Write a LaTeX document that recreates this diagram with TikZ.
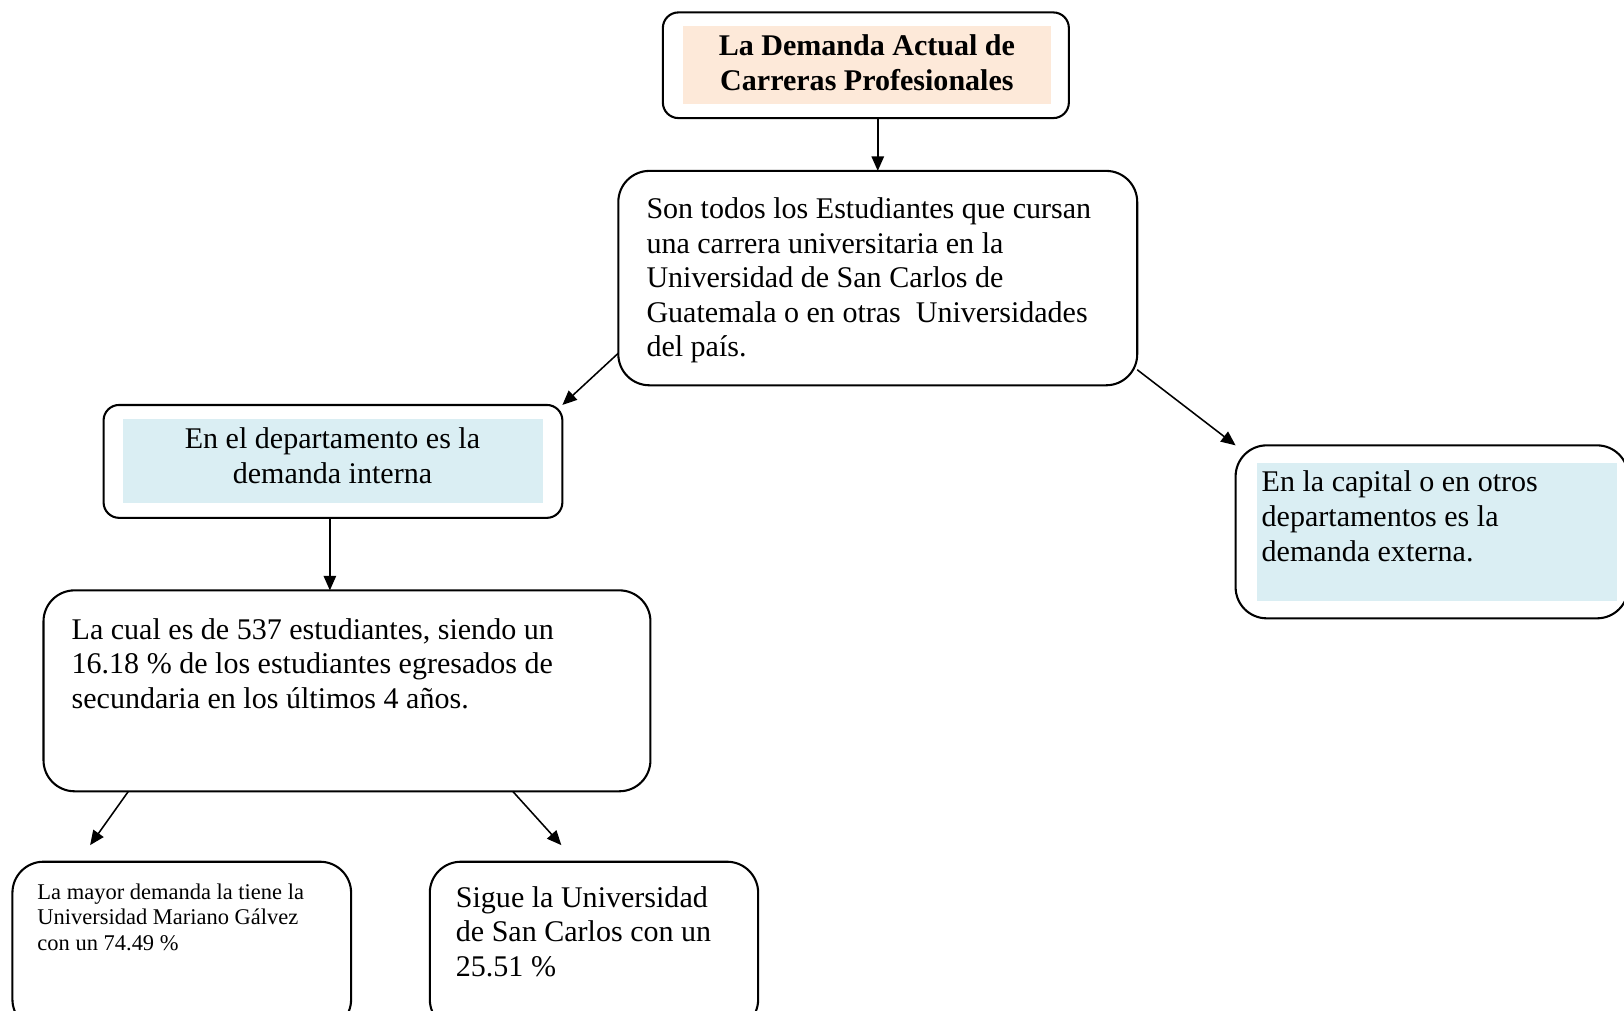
\documentclass[tikz,border=0pt]{standalone}
\usepackage{fontspec}
\setmainfont{Liberation Serif}
\usetikzlibrary{arrows.meta,calc}
\definecolor{peach}{RGB}{253,233,217}
\definecolor{lightblue}{RGB}{218,238,243}
\newcommand{\natsp}{\spaceskip=0.25em\xspaceskip=0.25em\relax}
\tikzset{
  rbox/.style={draw=black, line width=2pt, inner sep=0pt, outer sep=0pt},
  arr/.style={line width=1.5pt, -{Triangle[length=14pt,width=12pt]}},
  bigtext/.style={inner sep=0pt, font=\fontsize{29}{33.4}\selectfont},
  smalltext/.style={inner sep=0pt, font=\fontsize{21.7}{25}\selectfont},
}
\begin{document}
\begin{tikzpicture}[x=1pt,y=-1pt]
\useasboundingbox (0,0) rectangle (1568,976);
\clip (0,0) rectangle (1568,976);
% fills
\fill[peach] (659,25) rectangle (1015,100);
\fill[lightblue] (119,405) rectangle (524,486);
\fill[lightblue] (1214,447) rectangle (1561,580);
% boxes
\node[rbox, rounded corners=15pt, minimum width=392pt, minimum height=102pt] (b1) at (836,63) {};
\node[rbox, rounded corners=30pt, minimum width=501pt, minimum height=207pt] (b2) at (847.5,268.5) {};
\node[rbox, rounded corners=15pt, minimum width=443pt, minimum height=109pt] (b3) at (321.5,445.5) {};
\node[rbox, rounded corners=30pt, minimum width=379pt, minimum height=167pt] (b4) at (1382.5,513.5) {};
\node[rbox, rounded corners=30pt, minimum width=586pt, minimum height=194pt] (b5) at (335,667) {};
\node[rbox, rounded corners=30pt, minimum width=327pt, minimum height=163pt] (b6) at (175.5,913.5) {};
\node[rbox, rounded corners=30pt, minimum width=317pt, minimum height=163pt] (b7) at (573.5,913.5) {};
% texts
\node[bigtext, anchor=base, text width=380pt, align=center, font=\fontsize{29}{33.4}\selectfont\bfseries] (t1) at (837,54)
  {\natsp La Demanda Actual de\\Carreras Profesionales};
\node[bigtext, anchor=base west, text width=470pt, align=left] (t2) at (624,211)
  {\natsp Son todos los Estudiantes que cursan\\una carrera universitaria en la\\Universidad de San Carlos de\\Guatemala o en otras~ Universidades\\del país.};
\node[bigtext, anchor=base, text width=400pt, align=center] (t3) at (321,433)
  {\natsp En el departamento es la\\demanda interna};
\node[bigtext, anchor=base west, text width=340pt, align=left] (t4) at (1218,475)
  {\natsp En la capital o en otros\\departamentos es la\\demanda externa.};
\node[bigtext, anchor=base west, text width=540pt, align=left] (t5) at (69,617)
  {\natsp La cual es de 537 estudiantes, siendo un\\16.18 \% de los estudiantes egresados de\\secundaria en los últimos 4 años.};
\node[smalltext, anchor=base west, text width=290pt, align=left] (t6) at (36,868)
  {\natsp La mayor demanda la tiene la\\Universidad Mariano Gálvez\\con un 74.49 \%};
\node[bigtext, anchor=base west, text width=280pt, align=left] (t7) at (440,876)
  {\natsp Sigue la Universidad\\de San Carlos con un\\25.51 \%};
% connectors
\draw[arr] (b2.north |- b1.south) -- (b2.north);
\draw[arr] ($(b2.south west)+(0,-31)$) -- (b3.north east);
\draw[arr] ($(b2.south east)+(0,-15)$) -- (b4.north west);
\draw[arr] ($(b3.south)+(-3,0)$) -- ($(b3.south |- b5.north)+(-3,0)$);
\coordinate (e6) at ($(b6.north west)+(75,-16)$);
\coordinate (e7) at ($(b7.north west)+(127,-16)$);
\draw[arr] ($(b5.south west)+(82,0)$) -- (e6);
\draw[arr] ($(b5.south west)+(453,0)$) -- (e7);
\end{tikzpicture}
\end{document}
